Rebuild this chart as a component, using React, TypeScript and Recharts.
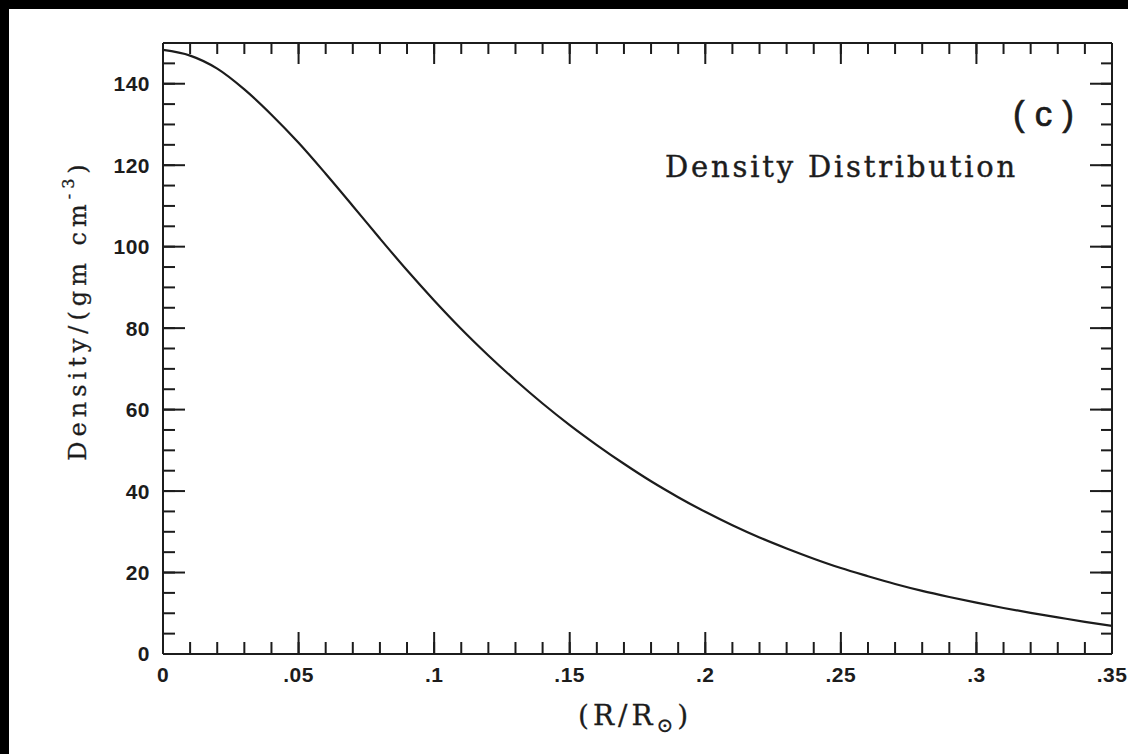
import React from "react";
import { LineChart, Line, XAxis, YAxis } from "recharts";

// radius in solar radii, density in g/cm^3
const radius = [
  0, 0.01, 0.02, 0.03, 0.04, 0.05, 0.06, 0.07, 0.08, 0.09, 0.1, 0.11, 0.12,
  0.13, 0.14, 0.15, 0.16, 0.17, 0.18, 0.19, 0.2, 0.21, 0.22, 0.23, 0.24, 0.25,
  0.26, 0.27, 0.28, 0.29, 0.3, 0.31, 0.32, 0.33, 0.34, 0.35,
];
const density = [
  148.3, 146.9, 143.7, 138.6, 132.4, 125.5, 117.9, 110.0, 102.0, 94.2, 86.8,
  79.8, 73.3, 67.2, 61.5, 56.2, 51.3, 46.7, 42.4, 38.5, 34.9, 31.6, 28.6, 25.9,
  23.4, 21.1, 19.1, 17.2, 15.5, 14.0, 12.6, 11.3, 10.1, 9.0, 7.9, 6.9,
];

const xMajorTicks = [0, 0.05, 0.1, 0.15, 0.2, 0.25, 0.3, 0.35];
const xTickLabels = ["0", ".05", ".1", ".15", ".2", ".25", ".3", ".35"];
const xMinorTicks = [
  0, 0.01, 0.02, 0.03, 0.04, 0.05, 0.06, 0.07, 0.08, 0.09, 0.1, 0.11, 0.12,
  0.13, 0.14, 0.15, 0.16, 0.17, 0.18, 0.19, 0.2, 0.21, 0.22, 0.23, 0.24, 0.25,
  0.26, 0.27, 0.28, 0.29, 0.3, 0.31, 0.32, 0.33, 0.34, 0.35,
];
const yMajorTicks = [0, 20, 40, 60, 80, 100, 120, 140];
const yMinorTicks = [
  0, 5, 10, 15, 20, 25, 30, 35, 40, 45, 50, 55, 60, 65, 70, 75, 80, 85, 90, 95,
  100, 105, 110, 115, 120, 125, 130, 135, 140, 145, 150,
];

const data = radius.map((r, i) => ({ r, rho: density[i] }));

const INK = "#1c1c1c";
const X_DOMAIN: [number, number] = [0, 0.35];
const Y_DOMAIN: [number, number] = [0, 150];
const tickFont = {
  fill: INK,
  fontSize: 21,
  fontWeight: 700,
  fontFamily: "Liberation Sans, Arial, sans-serif",
  letterSpacing: 0.5,
};
const serif = "DejaVu Serif, serif";
const noLabel = () => <g />;
const tickStroke = { stroke: INK, strokeWidth: 2 };
const frameStroke = { stroke: INK, strokeWidth: 2 };

// shared props for the extra axes that only carry inward tick marks
const xTickOnly = {
  type: "number" as const,
  dataKey: "r",
  domain: X_DOMAIN,
  allowDataOverflow: true,
  mirror: true,
  height: 1,
  interval: 0 as const,
  tick: noLabel,
  tickLine: tickStroke,
};
const yTickOnly = {
  type: "number" as const,
  dataKey: "rho",
  domain: Y_DOMAIN,
  allowDataOverflow: true,
  mirror: true,
  width: 1,
  interval: 0 as const,
  tick: noLabel,
  tickLine: tickStroke,
};

export default function App() {
  return (
    <>
      <style>{`html,body{margin:0;padding:0;background:#000;overflow:hidden}`}</style>
      <div
        style={{
          position: "absolute",
          left: 9,
          top: 9,
          width: 1119,
          height: 745,
          background: "#fff",
        }}
      >
        <LineChart
          width={1119}
          height={745}
          data={data}
          margin={{ top: 34, right: 16, bottom: 70, left: 94 }}
        >
          {/* bottom axis with labels */}
          <XAxis
            xAxisId="x"
            type="number"
            dataKey="r"
            domain={X_DOMAIN}
            allowDataOverflow
            ticks={xMajorTicks}
            interval={0}
            tickFormatter={(v: number) => xTickLabels[xMajorTicks.indexOf(v)]}
            tickLine={false}
            tickSize={0}
            tickMargin={13}
            height={30}
            axisLine={frameStroke}
            tick={tickFont}
          />
          {/* inward tick marks, bottom and top */}
          <XAxis {...xTickOnly} xAxisId="xb1" ticks={xMajorTicks} tickSize={22} axisLine={false} />
          <XAxis {...xTickOnly} xAxisId="xb2" ticks={xMinorTicks} tickSize={11} axisLine={false} />
          <XAxis
            {...xTickOnly}
            xAxisId="xt1"
            orientation="top"
            ticks={xMajorTicks}
            tickSize={21}
            axisLine={frameStroke}
          />
          <XAxis
            {...xTickOnly}
            xAxisId="xt2"
            orientation="top"
            ticks={xMinorTicks}
            tickSize={10}
            axisLine={false}
          />

          {/* left axis with labels */}
          <YAxis
            yAxisId="y"
            type="number"
            dataKey="rho"
            domain={Y_DOMAIN}
            allowDataOverflow
            ticks={yMajorTicks}
            interval={0}
            tickLine={false}
            tickSize={0}
            tickMargin={13}
            width={60}
            axisLine={frameStroke}
            tick={tickFont}
          />
          {/* inward tick marks, left and right */}
          <YAxis {...yTickOnly} yAxisId="yl1" ticks={yMajorTicks} tickSize={22} axisLine={false} />
          <YAxis {...yTickOnly} yAxisId="yl2" ticks={yMinorTicks} tickSize={11} axisLine={false} />
          <YAxis
            {...yTickOnly}
            yAxisId="yr1"
            orientation="right"
            ticks={yMajorTicks}
            tickSize={22}
            axisLine={frameStroke}
          />
          <YAxis
            {...yTickOnly}
            yAxisId="yr2"
            orientation="right"
            ticks={yMinorTicks}
            tickSize={10}
            axisLine={false}
          />

          <Line
            xAxisId="x"
            yAxisId="y"
            type="monotone"
            dataKey="rho"
            stroke={INK}
            strokeWidth={2.2}
            dot={false}
            isAnimationActive={false}
          />

          <text
            x={1004}
            y={117}
            fill={INK}
            stroke={INK}
            strokeWidth={0.7}
            fontFamily="Liberation Sans, Arial, sans-serif"
            fontSize={35}
            letterSpacing={10}
          >
            (c)
          </text>
          <text
            x={656}
            y={168}
            fill={INK}
            stroke={INK}
            strokeWidth={0.4}
            fontFamily={serif}
            fontSize={29}
            letterSpacing={2.8}
          >
            Density Distribution
          </text>
          <text
            x={569}
            y={716}
            fill={INK}
            stroke={INK}
            strokeWidth={0.3}
            fontFamily={serif}
            fontSize={28}
            letterSpacing={4}
          >
            (R/R
            <tspan fontSize={20} dy={7}>
              ⊙
            </tspan>
            <tspan dy={-7}>)</tspan>
          </text>
          <text
            x={77}
            y={301}
            transform="rotate(-90, 77, 301)"
            textAnchor="middle"
            fill={INK}
            stroke={INK}
            strokeWidth={0.3}
            fontFamily={serif}
            fontSize={24}
            letterSpacing={5}
          >
            Density/(gm cm
            <tspan fontSize={16} dy={-12}>
              -3
            </tspan>
            <tspan dy={12}>)</tspan>
          </text>
        </LineChart>
      </div>
    </>
  );
}
